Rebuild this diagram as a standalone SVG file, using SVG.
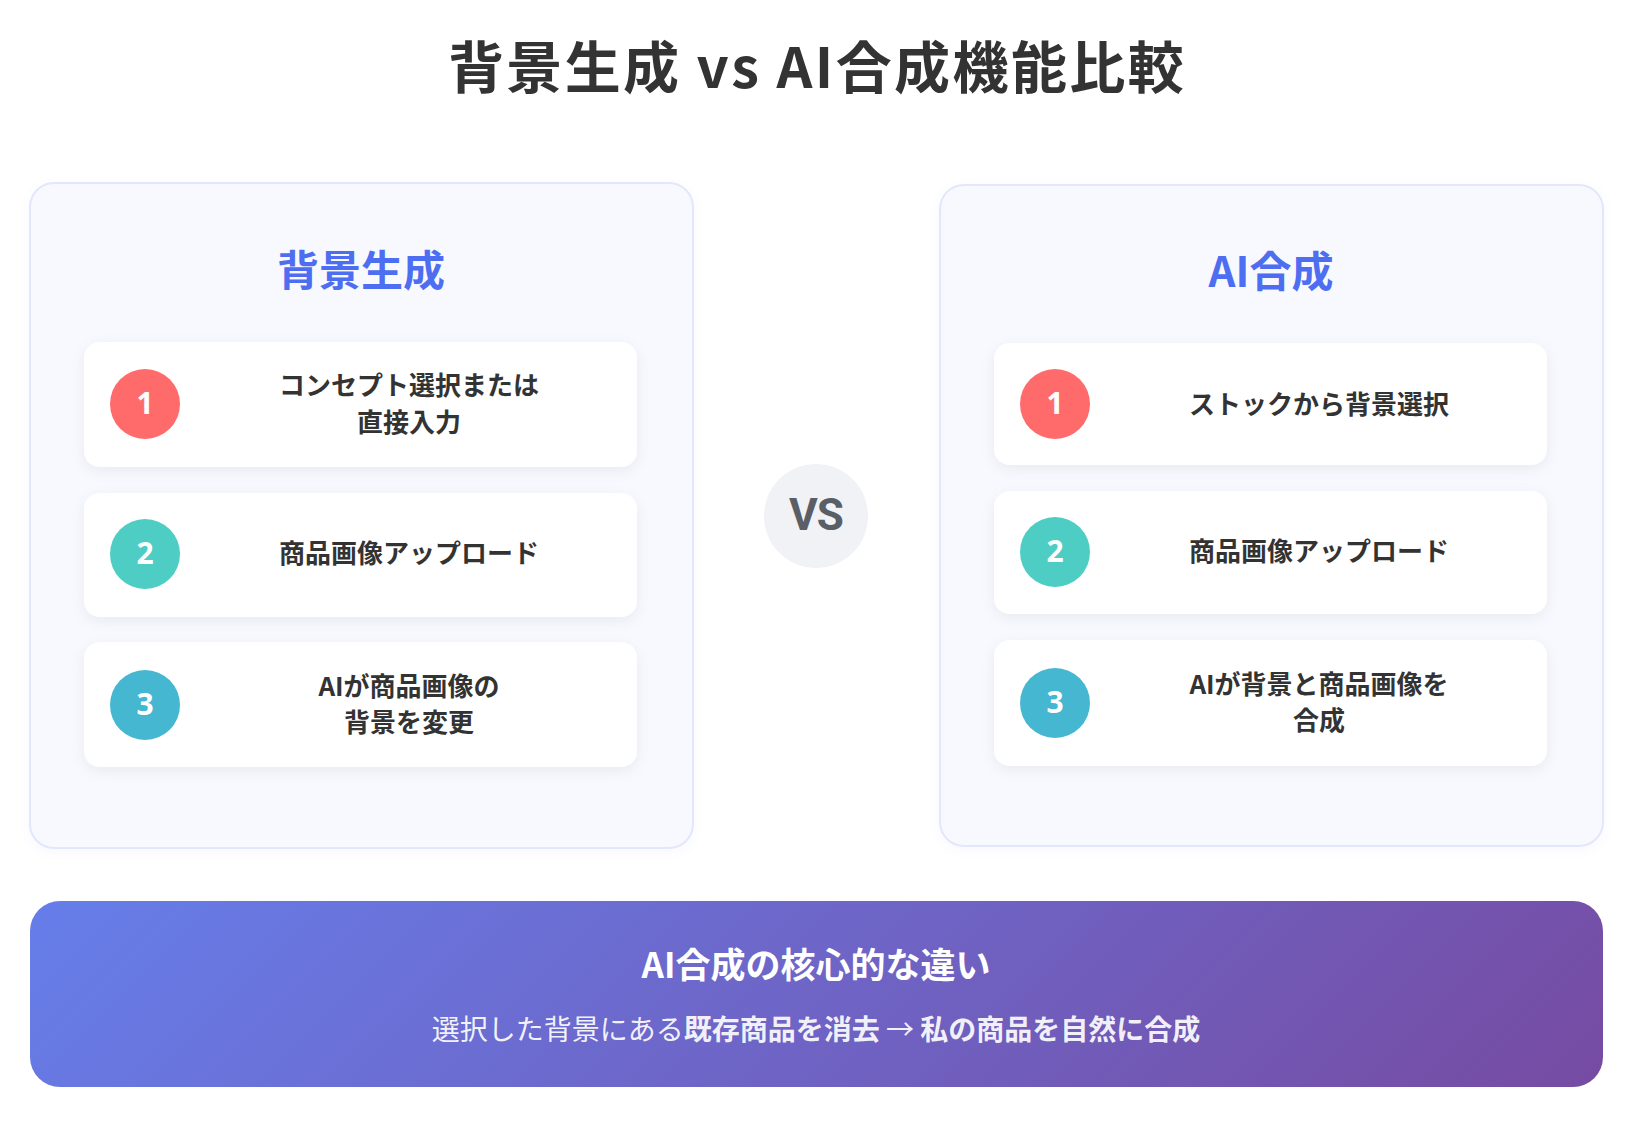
<svg xmlns="http://www.w3.org/2000/svg" width="1651" height="1128" viewBox="0 0 1651 1128">
  <defs>
    <linearGradient id="bannerGrad" x1="376.7" y1="554.2" x2="1256.3" y2="1433.8" gradientUnits="userSpaceOnUse">
      <stop offset="0" stop-color="#667eea"/>
      <stop offset="1" stop-color="#764ba2"/>
    </linearGradient>
    <filter id="cardShadow" x="-10%" y="-20%" width="120%" height="150%">
      <feDropShadow dx="0" dy="4" stdDeviation="7" flood-color="#000" flood-opacity="0.06"/>
    </filter>
    <filter id="panelShadow" x="-5%" y="-5%" width="110%" height="110%">
      <feDropShadow dx="0" dy="3" stdDeviation="5" flood-color="#667eea" flood-opacity="0.05"/>
    </filter>
  </defs>
  <style>
    text { font-family: "Noto Sans CJK JP", "Noto Sans", sans-serif; }
    .title { font-size: 56px; font-weight: 700; fill: #333; letter-spacing: 2.4px; }
    .panel { fill: #f8f9fe; stroke: #e3e7fb; stroke-width: 2; }
    .ptitle { font-size: 42px; font-weight: 700; fill: #4e6ef2; }
    .card { fill: #ffffff; }
    .num { font-family: "Noto Sans", "Liberation Sans", sans-serif; font-size: 30px; font-weight: 700; fill: #fff; }
    .ctext { font-size: 26px; font-weight: 700; fill: #333; }
    .vs { font-family: Roboto, "Liberation Sans", sans-serif; font-size: 44px; font-weight: 700; fill: #5a5e66; letter-spacing: -1px; }
    .btitle { font-size: 35px; font-weight: 700; fill: #fff; }
    .bsub { font-size: 28px; fill: #fff; fill-opacity: 0.92; }
  </style>
  <rect width="1651" height="1128" fill="#ffffff"/>

  <g id="title">
    <text class="title" x="817" y="63" text-anchor="middle" dominant-baseline="central">背景生成 vs AI合成機能比較</text>
  </g>

  <g id="connectors"></g>

  <g id="panel-left">
    <rect class="panel" x="30" y="183" width="663" height="665" rx="24" filter="url(#panelShadow)"/>
    <text class="ptitle" x="361" y="267" text-anchor="middle" dominant-baseline="central">背景生成</text>
  </g>
  <g id="left-step1">
    <rect class="card" x="84" y="342" width="553" height="125" rx="16" filter="url(#cardShadow)"/>
    <circle cx="145" cy="404" r="35" fill="#ff6b6b"/>
    <text class="num" x="145" y="402" text-anchor="middle" dominant-baseline="central">1</text>
    <text class="ctext" x="409" y="383" text-anchor="middle" dominant-baseline="central">コンセプト選択または</text>
    <text class="ctext" x="409" y="420" text-anchor="middle" dominant-baseline="central">直接入力</text>
  </g>
  <g id="left-step2">
    <rect class="card" x="84" y="493" width="553" height="124" rx="16" filter="url(#cardShadow)"/>
    <circle cx="145" cy="554" r="35" fill="#4ecdc4"/>
    <text class="num" x="145" y="552" text-anchor="middle" dominant-baseline="central">2</text>
    <text class="ctext" x="409" y="551" text-anchor="middle" dominant-baseline="central">商品画像アップロード</text>
  </g>
  <g id="left-step3">
    <rect class="card" x="84" y="642" width="553" height="125" rx="16" filter="url(#cardShadow)"/>
    <circle cx="145" cy="705" r="35" fill="#45b7d1"/>
    <text class="num" x="145" y="703" text-anchor="middle" dominant-baseline="central">3</text>
    <text class="ctext" x="409" y="684" text-anchor="middle" dominant-baseline="central">AIが商品画像の</text>
    <text class="ctext" x="409" y="720" text-anchor="middle" dominant-baseline="central">背景を変更</text>
  </g>

  <g id="vs">
    <circle cx="816" cy="516" r="52" fill="#f0f2f5"/>
    <text class="vs" x="816" y="515" text-anchor="middle" dominant-baseline="central">VS</text>
  </g>

  <g id="panel-right">
    <rect class="panel" x="940" y="185" width="663" height="661" rx="24" filter="url(#panelShadow)"/>
    <text class="ptitle" x="1271" y="268" text-anchor="middle" dominant-baseline="central">AI合成</text>
  </g>
  <g id="right-step1">
    <rect class="card" x="994" y="343" width="553" height="122" rx="16" filter="url(#cardShadow)"/>
    <circle cx="1055" cy="404" r="35" fill="#ff6b6b"/>
    <text class="num" x="1055" y="402" text-anchor="middle" dominant-baseline="central">1</text>
    <text class="ctext" x="1319" y="402" text-anchor="middle" dominant-baseline="central">ストックから背景選択</text>
  </g>
  <g id="right-step2">
    <rect class="card" x="994" y="491" width="553" height="123" rx="16" filter="url(#cardShadow)"/>
    <circle cx="1055" cy="552" r="35" fill="#4ecdc4"/>
    <text class="num" x="1055" y="550" text-anchor="middle" dominant-baseline="central">2</text>
    <text class="ctext" x="1319" y="549" text-anchor="middle" dominant-baseline="central">商品画像アップロード</text>
  </g>
  <g id="right-step3">
    <rect class="card" x="994" y="640" width="553" height="126" rx="16" filter="url(#cardShadow)"/>
    <circle cx="1055" cy="703" r="35" fill="#45b7d1"/>
    <text class="num" x="1055" y="701" text-anchor="middle" dominant-baseline="central">3</text>
    <text class="ctext" x="1319" y="682" text-anchor="middle" dominant-baseline="central">AIが背景と商品画像を</text>
    <text class="ctext" x="1319" y="718" text-anchor="middle" dominant-baseline="central">合成</text>
  </g>

  <g id="banner">
    <rect x="30" y="901" width="1573" height="186" rx="30" fill="url(#bannerGrad)"/>
    <text class="btitle" x="816" y="962" text-anchor="middle" dominant-baseline="central">AI合成の核心的な違い</text>
    <text class="bsub" x="816" y="1028" text-anchor="middle" dominant-baseline="central"><tspan font-weight="400">選択した背景にある</tspan><tspan font-weight="700">既存商品を消去 </tspan><tspan font-weight="400">→</tspan><tspan font-weight="700"> 私の商品を自然に合成</tspan></text>
  </g>
</svg>
